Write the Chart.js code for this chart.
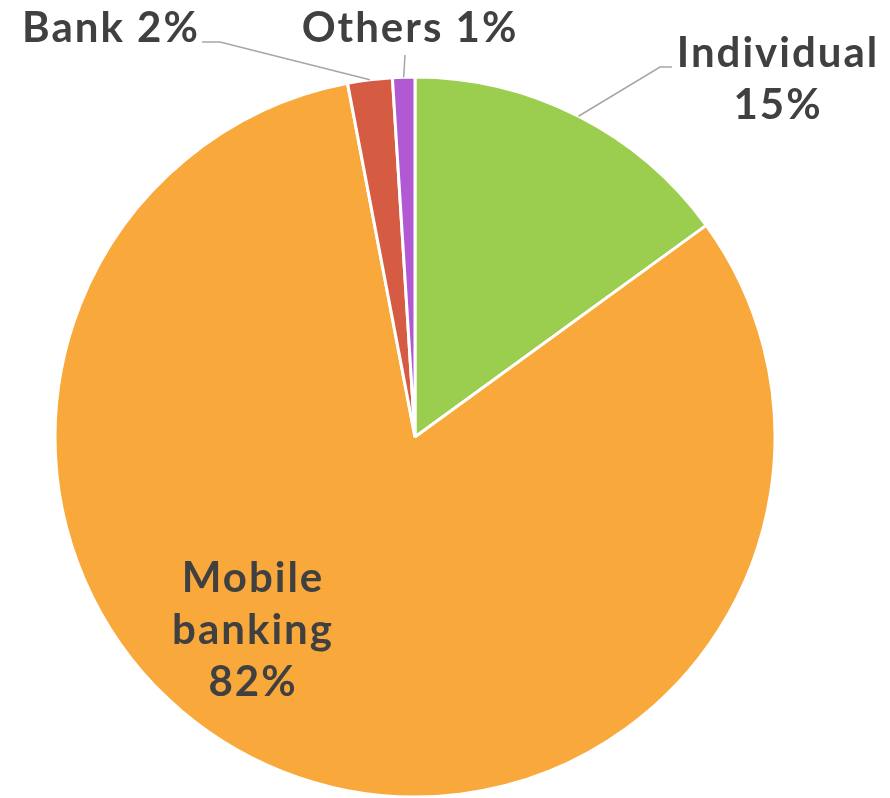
<!DOCTYPE html>
<html>
<head>
<meta charset="utf-8">
<script src="https://cdn.jsdelivr.net/npm/chart.js@4.4.1/dist/chart.umd.min.js"></script>
<style>
  html, body { margin: 0; padding: 0; background: #fff; }
  #wrap { width: 890px; height: 798px; position: relative; }
</style>
</head>
<body>
<div id="wrap"><canvas id="pie"></canvas></div>
<script>
'use strict'

const categories = ['Individual', 'Mobile banking', 'Bank', 'Others']
const shares = [15, 82, 2, 1]
const sliceColors = ['#9BCE4E', '#F9A83B', '#D55B42', '#B158D3']

// where each label sits; leader: elbow points of the leader line (null = label inside slice)
const labelSpots = [
  { lines: ['Individual', '15%'], x: 777, y: 53, leader: [[660, 67], [672, 67]] },
  { lines: ['Mobile', 'banking', '82%'], x: 252, y: 578, leader: null },
  { lines: ['Bank 2%'], x: 110, y: 28, leader: [[220, 42], [202, 42]] },
  { lines: ['Others 1%'], x: 409, y: 28, leader: [[405, 55]] }
]

const labelFont = 'bold 42px Lato'
const lineGap = 52

const pieLabels = {
  id: 'pieLabels',
  afterDatasetsDraw(chart) {
    const ctx = chart.ctx
    const arcs = chart.getDatasetMeta(0).data
    ctx.save()
    arcs.forEach((arc, i) => {
      const spot = labelSpots[i]
      const p = arc.getProps(['x', 'y', 'startAngle', 'endAngle', 'outerRadius'], true)
      const mid = (p.startAngle + p.endAngle) / 2
      if (spot.leader) {
        ctx.strokeStyle = '#A6A6A6'
        ctx.lineWidth = 1.5
        ctx.beginPath()
        ctx.moveTo(p.x + Math.cos(mid) * p.outerRadius, p.y + Math.sin(mid) * p.outerRadius)
        spot.leader.forEach(pt => ctx.lineTo(pt[0], pt[1]))
        ctx.stroke()
      }
      ctx.fillStyle = '#404040'
      ctx.font = labelFont
      ctx.letterSpacing = '2px'
      ctx.textAlign = 'center'
      ctx.textBaseline = 'middle'
      spot.lines.forEach((t, k) => ctx.fillText(t, spot.x + 1, spot.y + k * lineGap))
    })
    ctx.restore()
  }
}

const config = {
  type: 'pie',
  data: {
    labels: categories,
    datasets: [{
      data: shares,
      backgroundColor: sliceColors,
      borderColor: '#ffffff',
      borderWidth: 3,
      radius: 360
    }]
  },
  options: {
    responsive: true,
    maintainAspectRatio: false,
    animation: false,
    layout: { padding: { left: 55, right: 115, top: 77, bottom: 1 } },
    plugins: {
      legend: { display: false },
      tooltip: { enabled: false }
    }
  },
  plugins: [pieLabels]
}

let pie = new Chart(document.querySelector('#pie'), config)
</script>
</body>
</html>
